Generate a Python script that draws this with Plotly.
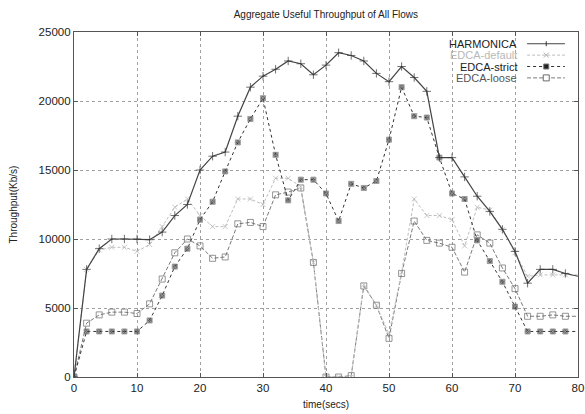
import plotly.graph_objects as go

time = list(range(0, 82, 2))

harmonica = [0, 7800, 9300, 10000, 10000, 10000, 9950, 10500, 11700, 12500,
             15000, 16000, 16300, 18900, 21000, 21800, 22300, 22900, 22700, 21900,
             22600, 23500, 23300, 22900, 22000, 21400, 22500, 21700, 20700, 15900,
             15900, 14500, 13100, 12000, 10700, 9100, 6800, 7800, 7800, 7500, 7300]

edca_default = [0, 7800, 9200, 9400, 9400, 9100, 9600, 10900, 12300, 12900,
                11700, 10900, 10900, 12900, 12900, 12500, 14400, 14400, 13800, 8300,
                0, 0, 0, 6700, 5200, 3100, 7600, 12900, 11700, 11700,
                11400, 9500, 12300, 12100, 10700, 9000, 7300, 7400, 7400, 7400, 7400]

edca_strict = [0, 3300, 3300, 3300, 3300, 3300, 4100, 5900, 8000, 9300,
               11400, 12700, 14900, 17000, 18700, 20200, 16100, 12800, 14300, 14300,
               13300, 11300, 14000, 13700, 14200, 17200, 21000, 18900, 18800, 15900,
               13300, 12900, 9900, 8400, 6900, 5100, 3300, 3300, 3300, 3300, 3300]

edca_loose = [0, 3900, 4500, 4700, 4700, 4600, 5300, 7100, 9000, 10000,
              9500, 8600, 8700, 11100, 11200, 10900, 13200, 13400, 13700, 8300,
              0, 0, 100, 6600, 5200, 2800, 7500, 11300, 9900, 9700,
              9400, 7600, 10300, 9700, 7900, 6400, 4400, 4400, 4500, 4400, 4400]

series_names = ["HARMONICA", "EDCA-default", "EDCA-strict", "EDCA-loose"]

x_ticks = [0, 10, 20, 30, 40, 50, 60, 70, 80]
y_ticks = [0, 5000, 10000, 15000, 20000, 25000]

title_text = "Aggregate Useful Throughput of All Flows"
x_title = "time(secs)"
y_title = "Throughput(Kb/s)"

FONT = "Liberation Sans, Arial, Helvetica, sans-serif"
TXT = "#222222"

def sizes(s):
    n = len(time)
    return [s] * (n - 1) + [0]

styles = {
    "HARMONICA": dict(lc="#444444", dash="solid", lw=1.2, sym="cross-thin-open", ms=6,
                      mc="#333333", mlc="#333333", tc=TXT),
    "EDCA-default": dict(lc="#bdbdbd", dash="3px,2px", lw=1, sym="x-thin-open", ms=5,
                         mc="#b0b0b0", mlc="#b0b0b0", tc="#b8b8b8"),
    "EDCA-strict": dict(lc="#333333", dash="dot", lw=1, sym="square-x", ms=5,
                        mc="#222222", mlc="#777777", tc=TXT),
    "EDCA-loose": dict(lc="#7a7a7a", dash="4px,2px", lw=1, sym="square-open", ms=6,
                       mc="#6a6a6a", mlc="#6a6a6a", tc="#555555"),
}
values = {"HARMONICA": harmonica, "EDCA-default": edca_default,
          "EDCA-strict": edca_strict, "EDCA-loose": edca_loose}

fig = go.Figure()
for name in ["EDCA-loose", "EDCA-default", "EDCA-strict", "HARMONICA"]:
    st = styles[name]
    fig.add_trace(go.Scatter(
        x=time, y=values[name], name=name, mode="lines+markers", showlegend=False,
        line=dict(color=st["lc"], width=st["lw"], dash=st["dash"]),
        marker=dict(symbol=st["sym"], size=sizes(st["ms"]), color=st["mc"],
                    line=dict(width=1, color=st["mlc"]))))

# custom legend (text right-aligned, key sample on the right, like gnuplot)
px_w, px_h = 504.0, 345.0
def px(dx):
    return dx / px_w
def py(dy):
    return dy / px_h

shapes = []
annotations = []
text_right = 0.883
line_x0, line_x1, mark_x = 0.899, 0.974, 0.937
row_y = [0.966, 0.933, 0.900, 0.867]
for name, yy in zip(series_names, row_y):
    st = styles[name]
    annotations.append(dict(text=name, x=text_right, y=yy, xref="paper", yref="paper",
                            xanchor="right", yanchor="middle", showarrow=False,
                            font=dict(family=FONT, size=11, color=st["tc"])))
    shapes.append(dict(type="line", xref="paper", yref="paper", x0=line_x0, x1=line_x1,
                       y0=yy, y1=yy, line=dict(color=st["lc"], width=st["lw"], dash=st["dash"])))
    h = 2.5
    if name == "HARMONICA":
        shapes.append(dict(type="line", xref="paper", yref="paper", x0=mark_x, x1=mark_x,
                           y0=yy - py(h), y1=yy + py(h), line=dict(color=st["mc"], width=1)))
    elif name == "EDCA-default":
        for sgn in (1, -1):
            shapes.append(dict(type="line", xref="paper", yref="paper",
                               x0=mark_x - px(h), x1=mark_x + px(h),
                               y0=yy - sgn * py(h), y1=yy + sgn * py(h),
                               line=dict(color=st["mc"], width=1)))
    elif name == "EDCA-strict":
        shapes.append(dict(type="rect", xref="paper", yref="paper",
                           x0=mark_x - px(h), x1=mark_x + px(h), y0=yy - py(h), y1=yy + py(h),
                           fillcolor=st["mc"], line=dict(color=st["mlc"], width=1)))
    else:
        shapes.append(dict(type="rect", xref="paper", yref="paper",
                           x0=mark_x - px(3), x1=mark_x + px(3), y0=yy - py(3), y1=yy + py(3),
                           fillcolor="white", line=dict(color=st["mc"], width=1)))

annotations.append(dict(text=y_title, x=-61 / px_w, y=0.5, xref="paper", yref="paper",
                        textangle=-90, showarrow=False, xanchor="center", yanchor="middle",
                        font=dict(family=FONT, size=10, color=TXT)))
annotations.append(dict(text=x_title, x=0.5, y=-27 / px_h, xref="paper", yref="paper",
                        showarrow=False, xanchor="center", yanchor="middle",
                        font=dict(family=FONT, size=10, color=TXT)))

axis_common = dict(
    showgrid=True, gridcolor="#a0a0a0", griddash="dot", gridwidth=1,
    showline=True, linecolor="#555555", linewidth=1.2, mirror="ticks",
    ticks="inside", ticklen=4, tickcolor="#555555",
    zeroline=False, tickfont=dict(family=FONT, size=11.5, color=TXT), automargin=False,
)

fig.update_xaxes(range=[0, 80], tickvals=x_ticks, ticktext=[str(v) for v in x_ticks], **axis_common)
fig.update_yaxes(range=[0, 25000], tickvals=y_ticks, ticktext=[str(v) for v in y_ticks], **axis_common)

fig.update_layout(
    width=585, height=414,
    margin=dict(l=74, r=7, t=32, b=37),
    paper_bgcolor="white", plot_bgcolor="white",
    title=dict(text=title_text, x=0.557, xanchor="center",
               y=0.965, yanchor="middle", font=dict(family=FONT, size=10, color=TXT)),
    shapes=shapes, annotations=annotations,
    showlegend=False,
)

fig.write_html("out.html", config={"displayModeBar": False},
               post_script="document.body.style.margin='0';document.body.style.overflow='hidden';")
